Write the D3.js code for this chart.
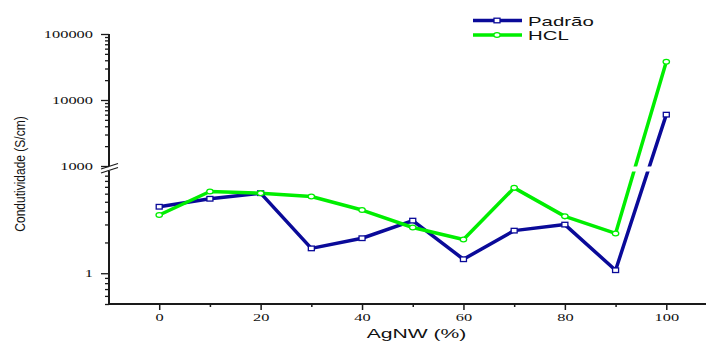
<!DOCTYPE html>
<html><head><meta charset="utf-8">
<script src="https://cdn.jsdelivr.net/npm/d3@7"></script>
<style>body{margin:0;background:#fff}svg{display:block}</style>
</head><body><svg id="c" width="706" height="342"></svg>
<script>
const categories = [0,10,20,30,40,50,60,70,80,90,100];
const padrao = [4.47,5.35,6.07,1.75,2.20,3.27,1.37,2.61,2.99,1.07,6000];
const hcl    = [3.71,6.30,6.07,5.63,4.15,2.80,2.14,6.84,3.60,2.45,38000];
const seriesNames = ["Padrão","HCL"];
const xTicks = [0,20,40,60,80,100];
const xMinor = [10,30,50,70,90];
const yHighTicks = [1000,10000,100000];
const yLowTicks = [1];

const TSX = 1.64;
const svg = d3.select("#c");
const x = d3.scaleLinear().domain([-10,110]).range([108.5,717]);
const yLow = d3.scaleLog().domain([0.5,10]).range([304,171]);
const yHigh = d3.scaleLog().domain([1000,100000]).range([166,34]);
const y = v => v <= 10 ? yLow(v) : yHigh(v);
const axisColor = "#1a1a1a";
const serif = "'Liberation Serif','Times New Roman',serif";
const sans = "'Liberation Sans',Arial,sans-serif";

// X axis
const gx = svg.append("g").attr("transform","translate(0,304)");
gx.call(d3.axisBottom(x).tickValues(xTicks).tickSize(6).tickFormat(d3.format("d")));
gx.append("g").call(d3.axisBottom(x).tickValues(xMinor).tickSize(3).tickFormat(""));
gx.selectAll(".domain").attr("stroke",axisColor).attr("stroke-width",2).attr("d","M108,0H706");
gx.selectAll("g > g > .domain").remove();
gx.selectAll(".tick line").attr("stroke",axisColor).attr("stroke-width",1.5);
gx.selectAll(".tick text").attr("font-family",serif).attr("font-size",10)
  .attr("fill","#111").attr("y",10).attr("transform",`scale(${TSX},1)`);

function styleY(g){
  g.selectAll(".domain").remove();
  g.selectAll(".tick line").attr("stroke",axisColor).attr("stroke-width",1.3);
  g.selectAll(".tick text").attr("font-family",serif).attr("font-size",10)
   .attr("fill","#111").attr("x",-16/TSX).attr("transform",`scale(${TSX},1)`);
}
const gyH = svg.append("g").attr("transform","translate(109,0)");
gyH.call(d3.axisLeft(yHigh).tickValues(yHighTicks).tickSize(8).tickFormat(d3.format("d")));
styleY(gyH);
const hiMinor = [2000,3000,4000,5000,6000,7000,8000,9000,20000,30000,40000,50000,60000,70000,80000,90000];
const gyHm = svg.append("g").attr("transform","translate(109,0)");
gyHm.call(d3.axisLeft(yHigh).tickValues(hiMinor).tickSize(4).tickFormat(""));
styleY(gyHm);

const gyL = svg.append("g").attr("transform","translate(109,0)");
gyL.call(d3.axisLeft(yLow).tickValues(yLowTicks).tickSize(8).tickFormat(d3.format("d")));
styleY(gyL);
const loMinor = [0.5,0.6,0.7,0.8,0.9,2,3,4,5,6,7,8,9];
const gyLm = svg.append("g").attr("transform","translate(109,0)");
gyLm.call(d3.axisLeft(yLow).tickValues(loMinor).tickSize(4).tickFormat(""));
styleY(gyLm);

// y axis lines with break
svg.append("line").attr("x1",109).attr("x2",109).attr("y1",yHigh(100000)).attr("y2",yHigh(1000))
  .attr("stroke",axisColor).attr("stroke-width",2);
svg.append("line").attr("x1",109).attr("x2",109).attr("y1",yLow(10)).attr("y2",305)
  .attr("stroke",axisColor).attr("stroke-width",2);

// lines
const line = d3.line().x((d,i)=>x(categories[i])).y(d=>y(d));
const colors = ["#0a0a99","#00ee00"];
const data = [padrao,hcl];
data.forEach((s,k)=>{
  svg.append("path").datum(s).attr("d",line).attr("fill","none")
    .attr("stroke",colors[k]).attr("stroke-width",3.5).attr("stroke-linejoin","round");
});
// break gap in plot
svg.append("rect").attr("x",113).attr("y",166.5).attr("width",600).attr("height",5).attr("fill","#fff");
// break marks
[0,4].forEach(o=>{
  svg.append("line").attr("x1",101).attr("y1",169+o).attr("x2",118).attr("y2",163.5+o)
    .attr("stroke",axisColor).attr("stroke-width",1.3);
});

// markers
function marker(g,k,cx,cy){
  if(k===0){
    g.append("rect").attr("x",cx-3).attr("y",cy-2.3).attr("width",6).attr("height",4.6)
      .attr("fill","#fff").attr("stroke",colors[k]).attr("stroke-width",1.3);
  } else {
    g.append("ellipse").attr("cx",cx).attr("cy",cy).attr("rx",3.2).attr("ry",2.4)
      .attr("fill","#fff").attr("stroke",colors[k]).attr("stroke-width",1.3);
  }
}
data.forEach((s,k)=>{
  const g = svg.append("g");
  s.forEach((v,i)=>marker(g,k,x(categories[i]),y(v)));
});

// legend
const legY = [20.5,35];
seriesNames.forEach((n,k)=>{
  svg.append("line").attr("x1",473).attr("x2",522).attr("y1",legY[k]).attr("y2",legY[k])
    .attr("stroke",colors[k]).attr("stroke-width",3.5);
  marker(svg,k,497,legY[k]);
  svg.append("text").attr("transform",`translate(528,${legY[k]+5}) scale(1.62,1)`)
    .attr("font-family",sans).attr("font-size",12.6).attr("fill","#111").text(n);
});

// axis titles
svg.append("text").attr("transform",`translate(416.5,338.3) scale(1.69,1)`).attr("text-anchor","middle")
  .attr("font-family",sans).attr("font-size",12.5).attr("fill","#111").text("AgNW (%)");
svg.append("text").attr("transform",`translate(25,174) scale(1.25,1) rotate(-90)`).attr("text-anchor","middle")
  .attr("font-family",sans).attr("font-size",12).attr("fill","#111").text("Condutividade (S/cm)");
</script></body></html>
